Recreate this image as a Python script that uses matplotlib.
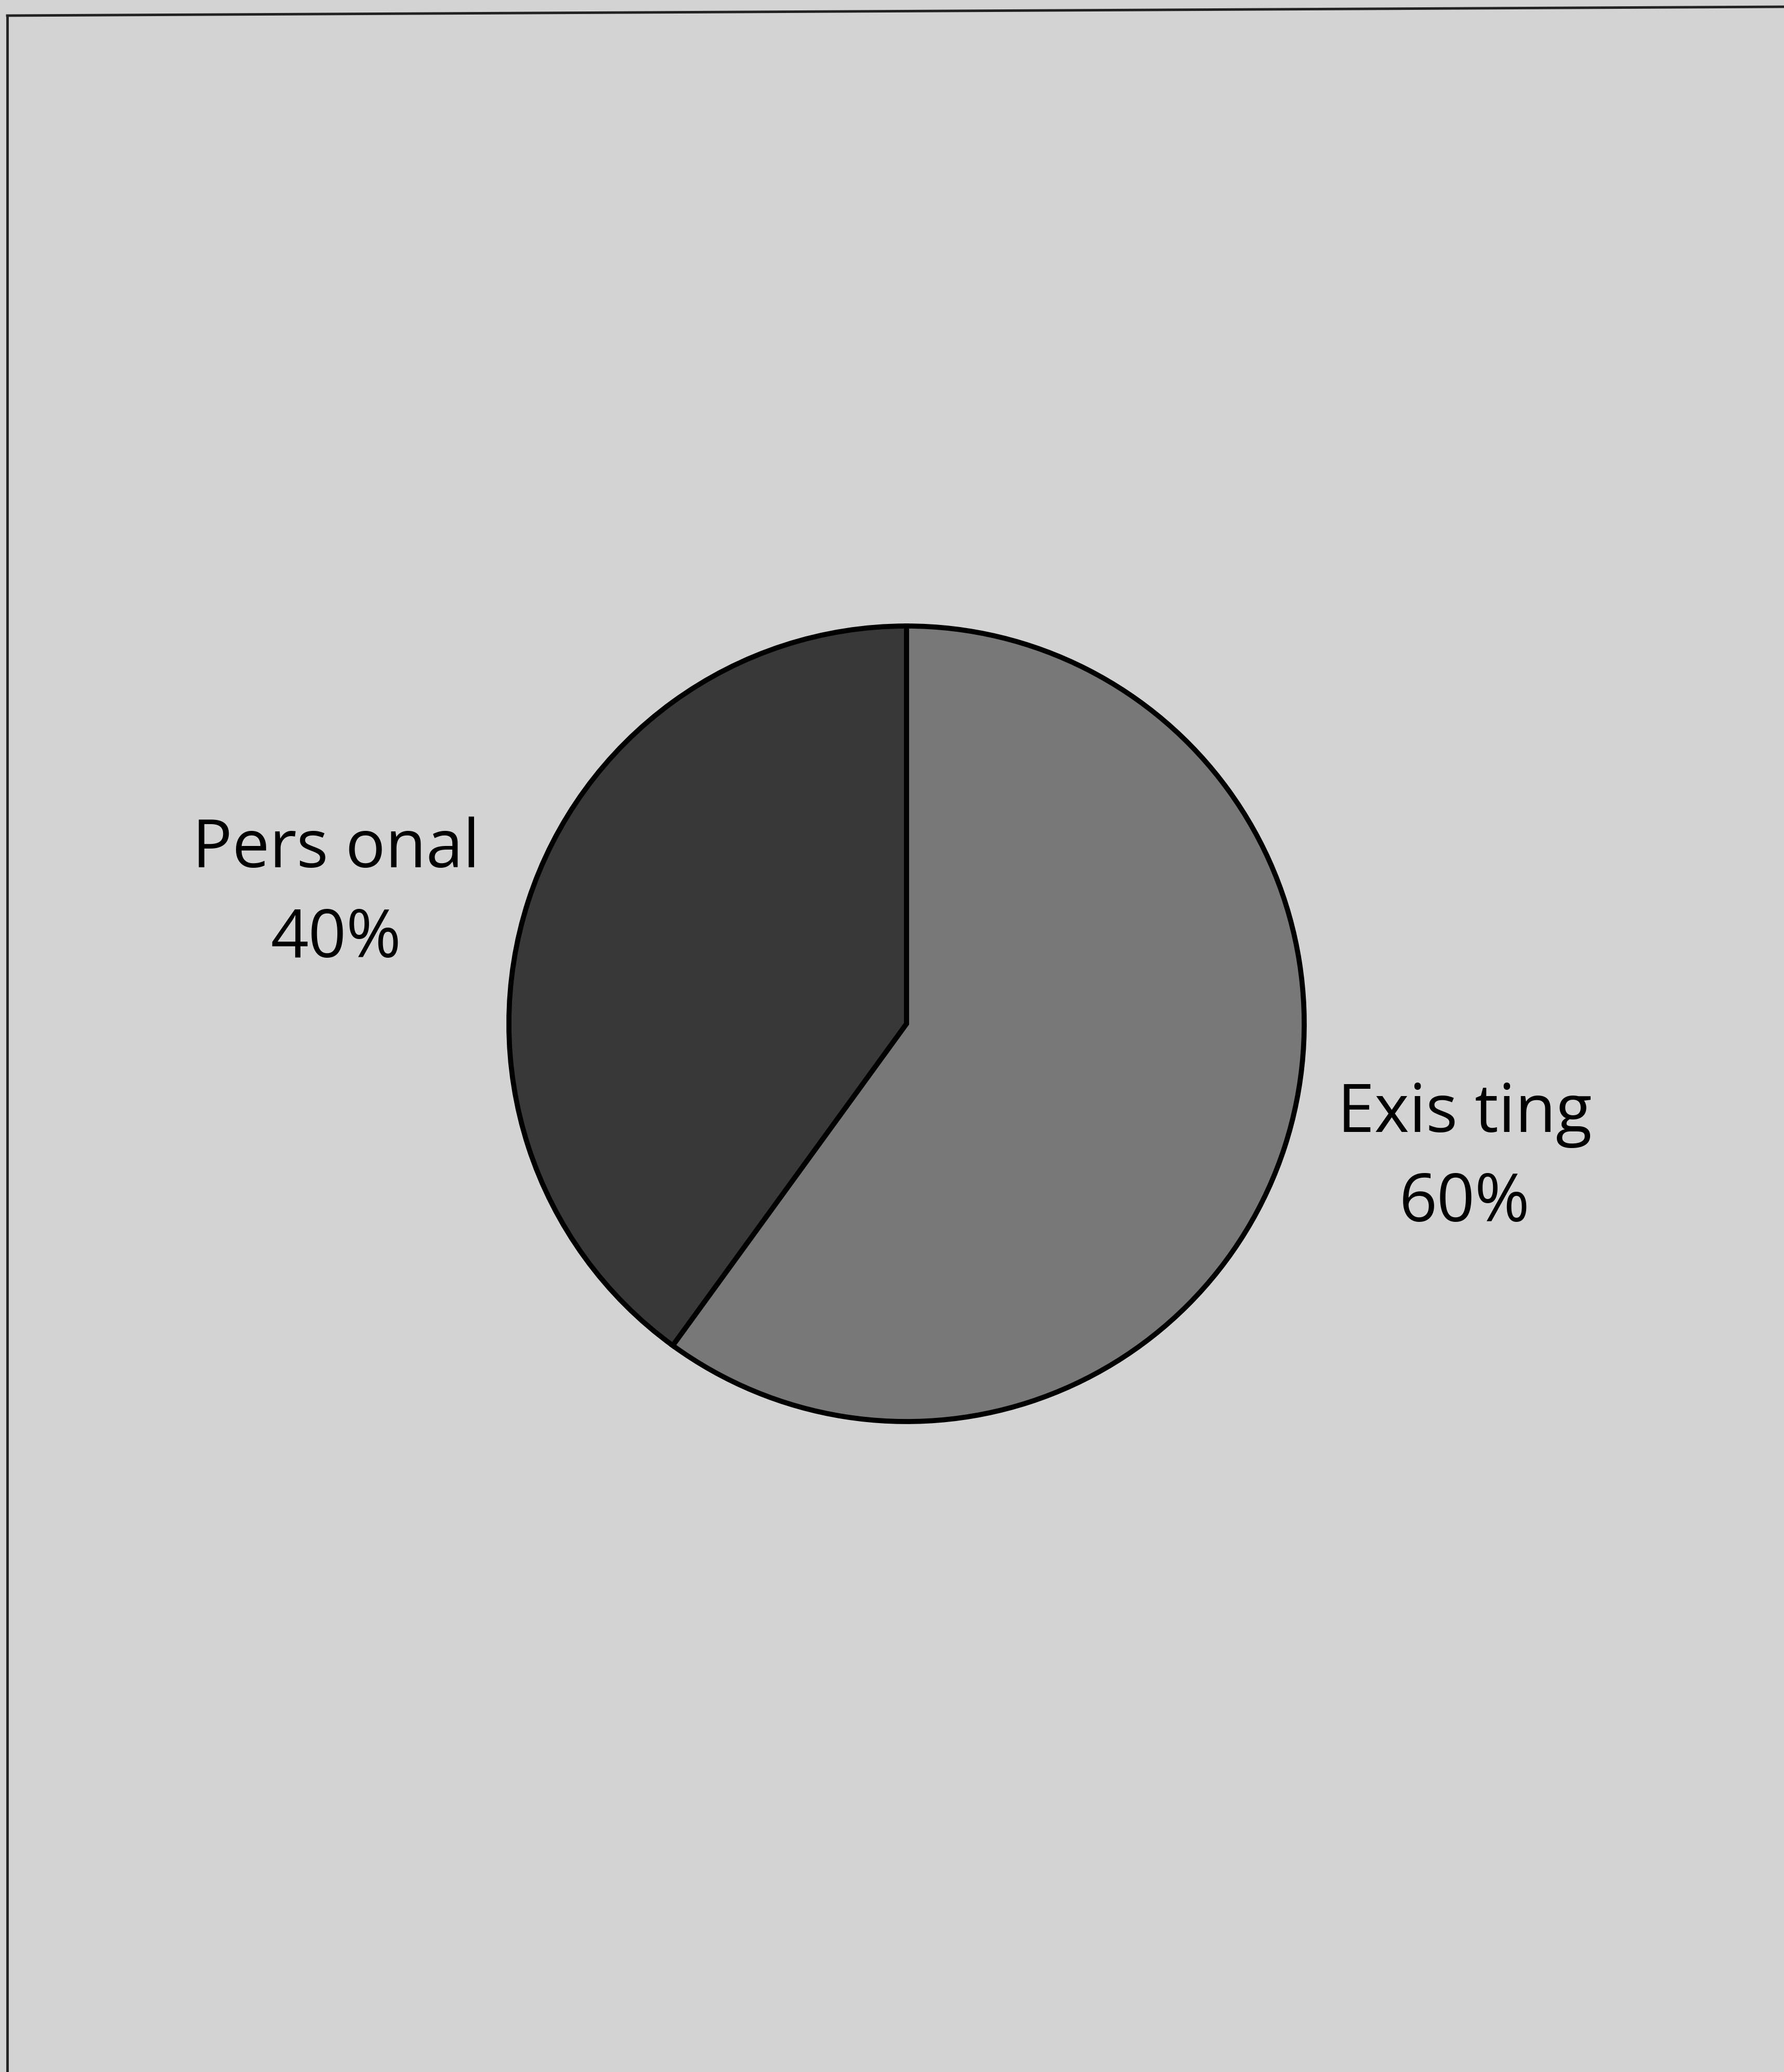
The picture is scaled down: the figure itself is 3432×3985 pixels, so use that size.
import matplotlib
matplotlib.use("Agg")
import matplotlib.pyplot as plt
from matplotlib.lines import Line2D

# pie data (labels spelled as they appear in the picture)
labels = ["Pers onal", "Exis ting"]
values = [40, 60]
colors = ["#383838", "#787878"]

bg = "#d3d3d3"
W, H = 3432, 3985
dpi = 100

fig = plt.figure(figsize=(W / dpi, H / dpi), dpi=dpi, facecolor=bg)
ax = fig.add_axes([0, 0, 1, 1])
ax.set_facecolor(bg)

# pie centre and radius in pixels of the picture
cx, cy, R = 1744, 1969, 765

wedges, _ = ax.pie(values, colors=colors, startangle=90, counterclock=True,
                   radius=1, center=(0, 0),
                   wedgeprops=dict(edgecolor="black", linewidth=7))

ax.set_xlim(-cx / R, (W - cx) / R)
ax.set_ylim(-(H - cy) / R, cy / R)
ax.set_aspect("auto")
ax.axis("off")

# labels beside the slices
label_pos = [(-1.435, 0.324), (1.404, -0.341)]
for txt, v, (x, y) in zip(labels, values, label_pos):
    ax.text(x, y, f"{txt}\n{v}%", ha="center", va="center",
            fontsize=92, family="Open Sans", linespacing=1.45, color="black")

# frame lines: left and top edges of the page
fig.add_artist(Line2D([14 / W, 14 / W], [1 - 30 / H, 0], transform=fig.transFigure,
                      color="#222222", linewidth=3.5))
fig.add_artist(Line2D([14 / W, 1], [1 - 30 / H, 1 - 13 / H], transform=fig.transFigure,
                      color="#222222", linewidth=3.5))

fig.savefig("out.png", dpi=dpi, facecolor=bg)
